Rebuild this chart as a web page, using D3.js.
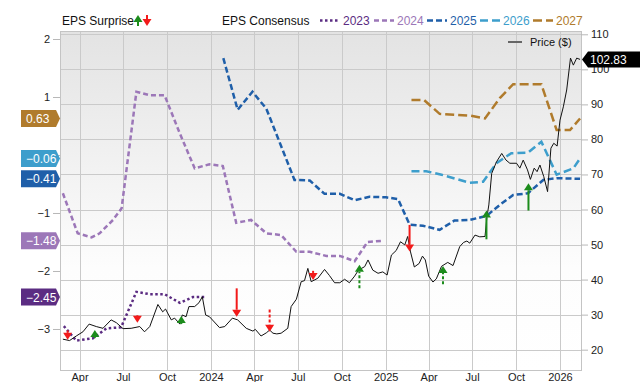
<!DOCTYPE html>
<html>
<head>
<meta charset="utf-8">
<script src="https://cdn.jsdelivr.net/npm/d3@7"></script>
<style>
  body { margin: 0; background: #fff; font-family: 'Liberation Sans', Arial, sans-serif; }
</style>
</head>
<body>
<div id="chart"></div>
<script>
// EPS consensus per fiscal year: [date, eps]
const eps2023 = [
  ['2023-02-27', -2.95], ['2023-03-25', -3.20], ['2023-04-29', -3.16], ['2023-05-27', -2.99],
  ['2023-06-27', -2.97], ['2023-07-29', -2.36], ['2023-08-26', -2.40], ['2023-09-26', -2.40],
  ['2023-10-28', -2.55], ['2023-11-24', -2.45], ['2023-12-23', -2.45]
]
const eps2024 = [
  ['2023-02-25', -0.66], ['2023-03-28', -1.35], ['2023-04-26', -1.42], ['2023-05-13', -1.35],
  ['2023-06-10', -1.12], ['2023-06-28', -0.92], ['2023-07-29', 1.09], ['2023-08-26', 1.03],
  ['2023-09-26', 1.03], ['2023-10-28', 0.37], ['2023-11-28', -0.23], ['2023-12-29', -0.16],
  ['2024-01-26', -0.19], ['2024-02-23', -1.17], ['2024-03-25', -1.12], ['2024-04-26', -1.35],
  ['2024-05-27', -1.38], ['2024-06-28', -1.67], ['2024-07-26', -1.67], ['2024-08-30', -1.74],
  ['2024-09-27', -1.74], ['2024-10-28', -1.83], ['2024-11-24', -1.50], ['2024-12-26', -1.48]
]
const eps2025 = [
  ['2024-01-27', 1.67], ['2024-02-26', 0.78], ['2024-03-28', 1.09], ['2024-04-26', 0.80],
  ['2024-06-24', -0.43], ['2024-07-26', -0.44], ['2024-08-26', -0.67], ['2024-09-27', -0.67],
  ['2024-10-28', -0.78], ['2024-11-28', -0.72], ['2025-01-02', -0.73], ['2025-01-27', -0.76],
  ['2025-02-20', -1.20], ['2025-03-20', -1.22], ['2025-04-24', -1.29], ['2025-05-25', -1.13],
  ['2025-06-26', -1.12], ['2025-07-31', -1.05], ['2025-08-28', -0.86], ['2025-09-25', -0.69],
  ['2025-10-26', -0.66], ['2025-11-27', -0.43], ['2025-12-25', -0.40], ['2026-02-12', -0.41]
]
const eps2026 = [
  ['2025-02-24', -0.28], ['2025-03-27', -0.28], ['2025-04-28', -0.34], ['2025-06-26', -0.48],
  ['2025-07-24', -0.46], ['2025-08-21', -0.14], ['2025-09-21', 0.03], ['2025-10-26', 0.04],
  ['2025-11-23', 0.23], ['2025-12-25', -0.34], ['2026-01-29', -0.23], ['2026-02-12', -0.06]
]
const eps2027 = [
  ['2025-02-24', 0.95], ['2025-03-22', 0.95], ['2025-04-24', 0.71], ['2025-06-26', 0.68],
  ['2025-07-28', 0.63], ['2025-08-28', 0.98], ['2025-09-25', 1.22], ['2025-11-23', 1.22],
  ['2025-12-25', 0.43], ['2026-01-22', 0.43], ['2026-02-12', 0.63]
]

// share price: [date, price]
const price = [
  ['2023-02-25', 23.0], ['2023-03-11', 22.6], ['2023-03-25', 23.9], ['2023-04-08', 25.1],
  ['2023-04-21', 27.3], ['2023-05-06', 26.6], ['2023-05-20', 26.1], ['2023-06-06', 28.5],
  ['2023-06-17', 27.7], ['2023-07-01', 26.0], ['2023-07-18', 26.1], ['2023-08-05', 26.6],
  ['2023-08-15', 25.1], ['2023-08-26', 26.6], ['2023-09-12', 32.9], ['2023-09-22', 30.8],
  ['2023-09-28', 31.6], ['2023-10-10', 28.5], ['2023-10-17', 29.0], ['2023-10-28', 27.3],
  ['2023-11-02', 29.9], ['2023-11-10', 29.4], ['2023-11-16', 32.3], ['2023-11-28', 32.3],
  ['2023-12-07', 33.4], ['2023-12-14', 35.1], ['2023-12-21', 29.9], ['2023-12-29', 29.4],
  ['2024-01-19', 26.3], ['2024-01-30', 26.6], ['2024-02-15', 29.0], ['2024-02-26', 28.5],
  ['2024-03-15', 26.1], ['2024-03-29', 25.3], ['2024-04-03', 25.8], ['2024-04-15', 23.9],
  ['2024-04-26', 24.8], ['2024-05-03', 25.6], ['2024-05-10', 24.7], ['2024-05-18', 24.5],
  ['2024-05-27', 24.7], ['2024-06-10', 26.1], ['2024-06-17', 32.3], ['2024-06-28', 34.4],
  ['2024-07-08', 39.4], ['2024-07-15', 39.7], ['2024-07-22', 43.2], ['2024-07-29', 39.4],
  ['2024-08-12', 40.4], ['2024-08-26', 42.9], ['2024-09-05', 41.2], ['2024-09-16', 39.1],
  ['2024-09-27', 39.1], ['2024-10-07', 40.1], ['2024-10-17', 39.1], ['2024-10-28', 41.0],
  ['2024-11-05', 42.7], ['2024-11-18', 43.7], ['2024-11-25', 45.6], ['2024-12-05', 42.7],
  ['2024-12-16', 41.8], ['2024-12-26', 42.2], ['2025-01-04', 41.3], ['2025-01-13', 47.0],
  ['2025-01-23', 48.3], ['2025-02-01', 50.8], ['2025-02-10', 49.9], ['2025-02-16', 52.3],
  ['2025-02-22', 47.9], ['2025-03-02', 43.6], ['2025-03-12', 44.6], ['2025-03-19', 46.7],
  ['2025-03-25', 45.6], ['2025-04-01', 41.0], ['2025-04-10', 39.3], ['2025-04-17', 40.2],
  ['2025-04-28', 43.8], ['2025-05-11', 44.9], ['2025-05-22', 44.0], ['2025-06-05', 49.4],
  ['2025-06-13', 50.6], ['2025-06-20', 51.0], ['2025-06-26', 50.4], ['2025-07-07', 52.7],
  ['2025-07-17', 52.2], ['2025-07-28', 52.3], ['2025-08-01', 57.9], ['2025-08-05', 61.3],
  ['2025-08-11', 70.3], ['2025-08-21', 73.6], ['2025-09-01', 76.0], ['2025-09-10', 74.1],
  ['2025-09-18', 73.2], ['2025-10-02', 73.2], ['2025-10-09', 71.8], ['2025-10-16', 74.1],
  ['2025-10-25', 71.3], ['2025-10-31', 68.6], ['2025-11-08', 71.8], ['2025-11-14', 70.8],
  ['2025-11-20', 72.7], ['2025-11-28', 69.4], ['2025-12-06', 65.1], ['2025-12-13', 77.5],
  ['2025-12-19', 78.9], ['2025-12-26', 78.1], ['2026-01-01', 85.5], ['2026-01-08', 89.3],
  ['2026-01-15', 94.1], ['2026-01-23', 103.2], ['2026-01-29', 101.2], ['2026-02-05', 103.2],
  ['2026-02-12', 102.83]
]

// EPS surprise arrows: [date, tail price, tip price, dashed]
const surprises = [
  ['2023-03-07', 25.5, 22.8, true], ['2023-05-03', 23.3, 25.6, false],
  ['2023-07-31', 29.9, 27.7, true], ['2023-10-31', 27.3, 29.6, true],
  ['2024-02-24', 37.5, 29.4, false], ['2024-05-03', 31.5, 25.1, true],
  ['2024-08-02', 42.5, 39.9, true], ['2024-11-07', 37.5, 44.2, true],
  ['2025-02-20', 55.6, 48.0, false], ['2025-05-01', 38.7, 43.9, true],
  ['2025-07-31', 51.5, 59.7, false], ['2025-10-27', 59.7, 67.5, false]
]

const epsTicks = [-3, -2, -1, 0, 1, 2]
const priceTicks = [20, 30, 40, 50, 60, 70, 80, 90, 100, 110]
const lastPrice = 102.83

const series = [
  { name: '2023', values: eps2023, color: '#5b2c82', dash: '2.5,2.5' },
  { name: '2024', values: eps2024, color: '#9c77b8', dash: '5,3' },
  { name: '2025', values: eps2025, color: '#1f5fa9', dash: '6,3' },
  { name: '2026', values: eps2026, color: '#3d9ecc', dash: '8,4' },
  { name: '2027', values: eps2027, color: '#b07b2c', dash: '9,4' }
]

const width = 640
const height = 382
const plot = { left: 60, right: 581, top: 31, bottom: 370 }
const parse = d3.timeParse('%Y-%m-%d')
const font = "'Liberation Sans', Arial, sans-serif"

const x = d3.scaleTime()
  .domain([parse('2023-02-19'), parse('2026-02-14')])
  .range([plot.left, plot.right])
const yEps = d3.scaleLinear().domain([-3.707, 2.138]).range([plot.bottom, plot.top])
const yPrice = d3.scaleLinear().domain([14.2, 110.94]).range([plot.bottom, plot.top])

const svg = d3.select('#chart')
  .append('svg')
  .attr('width', width)
  .attr('height', height)
  .style('font-family', font)

const grad = svg.append('defs')
  .append('linearGradient')
  .attr('id', 'bg')
  .attr('x1', 0).attr('x2', 0).attr('y1', 0).attr('y2', 1)
grad.append('stop').attr('offset', '0%').attr('stop-color', '#e3e3e3')
grad.append('stop').attr('offset', '70%').attr('stop-color', '#fdfdfd')
grad.append('stop').attr('offset', '100%').attr('stop-color', '#ffffff')

svg.append('rect')
  .attr('x', plot.left)
  .attr('y', plot.top)
  .attr('width', plot.right - plot.left)
  .attr('height', plot.bottom - plot.top)
  .attr('fill', 'url(#bg)')

const quarters = d3.timeMonth.every(3).range(x.domain()[0], x.domain()[1])

// grid
const grid = svg.append('g').attr('stroke', '#cacaca').attr('stroke-width', 1)
grid.selectAll('.h')
  .data(priceTicks)
  .join('line')
  .attr('x1', plot.left).attr('x2', plot.right)
  .attr('y1', d => Math.round(yPrice(d)) + 0.5)
  .attr('y2', d => Math.round(yPrice(d)) + 0.5)
grid.selectAll('.v')
  .data(quarters)
  .join('line')
  .attr('y1', plot.top).attr('y2', plot.bottom)
  .attr('x1', d => Math.round(x(d)) + 0.5)
  .attr('x2', d => Math.round(x(d)) + 0.5)

svg.append('rect')
  .attr('x', plot.left + 0.5)
  .attr('y', plot.top + 0.5)
  .attr('width', plot.right - plot.left)
  .attr('height', plot.bottom - plot.top)
  .attr('fill', 'none')
  .attr('stroke', '#c4c4c4')

// axes
const xAxis = g => g
  .attr('transform', `translate(0,${plot.bottom})`)
  .call(d3.axisBottom(x)
    .tickValues(quarters)
    .tickSize(0)
    .tickPadding(3)
    .tickFormat(d => d.getMonth() === 0 ? d.getFullYear() : d3.timeFormat('%b')(d)))
  .call(g => g.select('.domain').remove())

// the 0 label sits under the -0.06 badge in the original, so it is left blank
const yAxisLeft = g => g
  .attr('transform', `translate(${plot.left},0)`)
  .call(d3.axisLeft(yEps).tickValues(epsTicks).tickSize(7).tickPadding(3)
    .tickFormat(d => d === 0 ? '' : d3.format('d')(d)))
  .call(g => g.select('.domain').remove())

const yAxisRight = g => g
  .attr('transform', `translate(${plot.right},0)`)
  .call(d3.axisRight(yPrice).tickValues(priceTicks).tickSize(7).tickPadding(3))
  .call(g => g.select('.domain').remove())

svg.append('g').call(xAxis)
svg.append('g').call(yAxisLeft)
svg.append('g').call(yAxisRight)

svg.selectAll('.tick line').attr('stroke', '#b8b8b8')
svg.selectAll('.tick text')
  .attr('fill', '#222')
  .style('font-family', font)
  .style('font-size', '11px')

// EPS consensus lines
const epsLine = d3.line()
  .x(d => x(parse(d[0])))
  .y(d => yEps(d[1]))

svg.append('g')
  .selectAll('path')
  .data(series)
  .join('path')
  .attr('d', d => epsLine(d.values))
  .attr('fill', 'none')
  .attr('stroke', d => d.color)
  .attr('stroke-width', 2.5)
  .attr('stroke-dasharray', d => d.dash)

// price line
const priceLine = d3.line()
  .x(d => x(parse(d[0])))
  .y(d => yPrice(d[1]))

svg.append('path')
  .attr('d', priceLine(price))
  .attr('fill', 'none')
  .attr('stroke', '#111')
  .attr('stroke-width', 1)

// surprise arrows
const arrow = (g, x0, yTail, yTip, color, dashed) => {
  const dir = yTip > yTail ? 1 : -1
  const head = 7
  const base = yTip - dir * head
  if ((base - yTail) * dir > 0) {
    g.append('line')
      .attr('x1', x0).attr('x2', x0)
      .attr('y1', yTail).attr('y2', base)
      .attr('stroke', color)
      .attr('stroke-width', 2)
      .attr('stroke-dasharray', dashed ? '3,2' : null)
  }
  g.append('path')
    .attr('d', `M${x0 - 4.5},${base}L${x0 + 4.5},${base}L${x0},${yTip}Z`)
    .attr('fill', color)
}

const arrows = svg.append('g')
surprises.forEach(d => {
  const tail = yPrice(d[1])
  const tip = yPrice(d[2])
  const color = d[2] > d[1] ? '#1c8c1c' : '#f21a1a'
  arrow(arrows, x(parse(d[0])), tail, tip, color, d[3])
})

// badges on the left for last consensus values
const badges = svg.append('g')
series.forEach(s => {
  const v = s.values[s.values.length - 1][1]
  const cy = yEps(v)
  badges.append('path')
    .attr('d', `M21,${cy - 8.5}L56,${cy - 8.5}L60,${cy}L56,${cy + 8.5}L21,${cy + 8.5}Z`)
    .attr('fill', s.color)
  badges.append('text')
    .attr('x', 26)
    .attr('y', cy + 4.5)
    .attr('fill', '#fff')
    .style('font-size', '12px')
    .text(d3.format('.2f')(v))
})

// last price badge
const py = yPrice(lastPrice)
svg.append('path')
  .attr('d', `M${plot.right + 1},${py}L${plot.right + 7},${py - 8}L640,${py - 8}L640,${py + 8}L${plot.right + 7},${py + 8}Z`)
  .attr('fill', '#000')
svg.append('text')
  .attr('x', plot.right + 9)
  .attr('y', py + 4.5)
  .attr('fill', '#fff')
  .style('font-size', '12px')
  .text(lastPrice)

// legends
const legend = svg.append('g').style('font-size', '12px').attr('fill', '#111')
legend.append('text').attr('x', 62).attr('y', 25).text('EPS Surprise')
arrow(legend, 138, 26, 15, '#1c8c1c', false)
arrow(legend, 147, 15, 26, '#f21a1a', false)
legend.append('text').attr('x', 222).attr('y', 25).text('EPS Consensus')

const legendX = [320, 374, 427, 480, 533]
series.forEach((s, i) => {
  legend.append('line')
    .attr('x1', legendX[i]).attr('x2', legendX[i] + 20)
    .attr('y1', 20.5).attr('y2', 20.5)
    .attr('stroke', s.color)
    .attr('stroke-width', 2.5)
    .attr('stroke-dasharray', s.dash)
  legend.append('text')
    .attr('x', legendX[i] + 23)
    .attr('y', 25)
    .attr('fill', s.color)
    .text(s.name)
})

svg.append('line')
  .attr('x1', 508).attr('x2', 522)
  .attr('y1', 42).attr('y2', 42)
  .attr('stroke', '#666')
  .attr('stroke-width', 2)
svg.append('text')
  .attr('x', 530)
  .attr('y', 46)
  .attr('fill', '#111')
  .style('font-size', '11px')
  .text('Price ($)')
</script>
</body>
</html>
